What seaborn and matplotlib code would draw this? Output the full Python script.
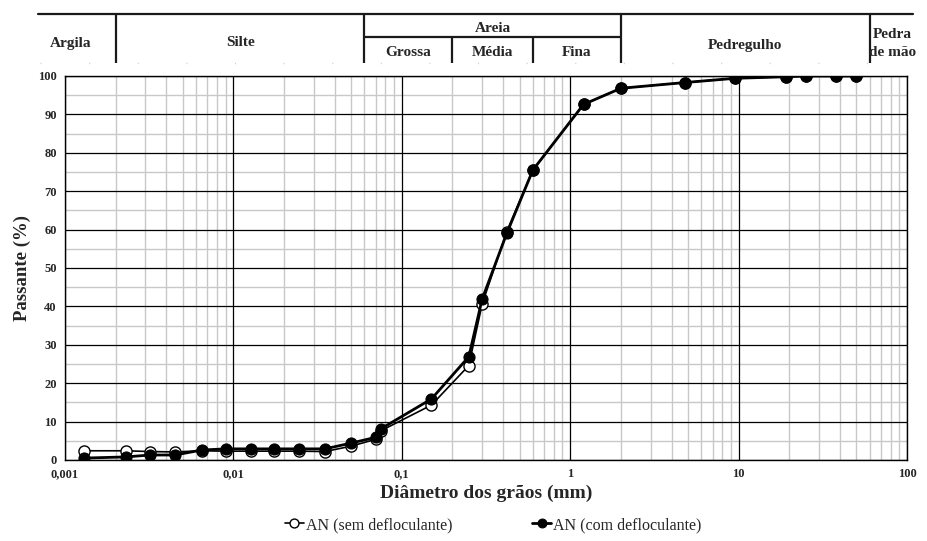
import numpy as np
import pandas as pd
import matplotlib
matplotlib.use("Agg")
import matplotlib.pyplot as plt
import seaborn as sns

# Grain diameters (mm): sedimentation readings followed by sieve openings
diam_sed = [0.0013, 0.0023, 0.0032, 0.0045, 0.0065, 0.009, 0.0127, 0.0174, 0.0245, 0.035, 0.05, 0.07]
diam_sieve = [0.075, 0.15, 0.25, 0.3, 0.42, 0.6, 1.2, 2.0, 4.8, 9.5, 19, 25, 38, 50]

# Percent passing
sem_sed = [2.4, 2.4, 2.2, 2.1, 2.4, 2.3, 2.3, 2.3, 2.3, 2.2, 3.6, 5.4]
sem_sieve = [7.6, 14.3, 24.6, 40.6, 59.5, 75.5, 92.6, 96.8, 98.3, 99.4, 99.8, 100, 100, 100]
com_sed = [0.5, 0.8, 1.3, 1.3, 2.6, 2.9, 2.9, 2.9, 2.9, 2.9, 4.4, 5.9]
com_sieve = [8.1, 15.9, 26.9, 41.9, 59.0, 75.5, 92.6, 96.8, 98.3, 99.4, 99.8, 100, 100, 100]

series_names = ["AN (sem defloculante)", "AN (com defloculante)"]

# Soil classification bands (NBR 6502)
class_bounds = [0.002, 0.06, 0.2, 0.6, 2.0, 60]
x_ticks = [0.001, 0.01, 0.1, 1, 10, 100]
x_tick_labels = ["0,001", "0,01", "0,1", "1", "10", "100"]
y_ticks = list(range(0, 101, 10))

sns.set_theme(style="white")
plt.rcParams["font.family"] = ["Liberation Serif", "DejaVu Serif"]

W_PX, H_PX = 928, 541
fig = plt.figure(figsize=(W_PX / 100, H_PX / 100), dpi=100)

left, right, top, bottom = 65, 907, 76, 460
ax = fig.add_axes([left / W_PX, 1 - bottom / H_PX, (right - left) / W_PX, (bottom - top) / H_PX])

df = pd.DataFrame({
    "d": diam_sed + diam_sieve + diam_sed + diam_sieve,
    "p": sem_sed + sem_sieve + com_sed + com_sieve,
    "serie": [series_names[0]] * (len(diam_sed) + len(diam_sieve))
             + [series_names[1]] * (len(diam_sed) + len(diam_sieve)),
})

ax.set_xscale("log")
ax.set_xlim(0.001, 100)
ax.set_ylim(0, 100)

# grid: grey minor lines, black major lines
for dec in [0.001, 0.01, 0.1, 1, 10]:
    for m in range(2, 10):
        ax.axvline(dec * m, color="#c8c8c8", lw=1.0, zorder=0.5)
for yv in range(5, 100, 10):
    ax.axhline(yv, color="#c8c8c8", lw=1.0, zorder=0.5)
for xv in x_ticks:
    ax.axvline(xv, color="black", lw=0.9, zorder=0.6)
for yv in y_ticks:
    ax.axhline(yv, color="black", lw=0.9, zorder=0.6)

sem = df[df["serie"] == series_names[0]]
com = df[df["serie"] == series_names[1]]
sns.lineplot(data=sem, x="d", y="p", ax=ax, sort=False, estimator=None,
             color="black", lw=1.2, marker="o", markersize=8,
             markerfacecolor="white", markeredgecolor="black", markeredgewidth=1.0,
             label=series_names[0], zorder=3, legend=False)
sns.lineplot(data=com, x="d", y="p", ax=ax, sort=False, estimator=None,
             color="black", lw=2.0, marker="o", markersize=8,
             markerfacecolor="black", markeredgecolor="black",
             label=series_names[1], zorder=4, legend=False)

ax.set_xticks(x_ticks)
ax.set_xticklabels(x_tick_labels)
ax.xaxis.set_minor_locator(matplotlib.ticker.NullLocator())
ax.set_yticks(y_ticks)
ax.tick_params(axis="both", length=0, labelsize=9, pad=6)
for lab in ax.get_xticklabels() + ax.get_yticklabels():
    lab.set_fontweight("bold")
ax.set_xlabel("Diâmetro dos grãos (mm)", fontsize=14, fontweight="bold", labelpad=3)
ax.set_ylabel("Passante (%)", fontsize=13.5, fontweight="bold", labelpad=5)
for s in ax.spines.values():
    s.set_color("black")
    s.set_linewidth(1.0)

# classification header drawn above the plot with the same log x-scale
hax = fig.add_axes([left / W_PX, 1 - 66 / H_PX, (right - left) / W_PX, (66 - 6) / H_PX])
hax.set_xscale("log")
hax.set_xlim(0.001, 100)
hax.set_ylim(66, 6)
hax.axis("off")
hax.axhline(13.5, xmin=(38 - left) / (right - left), xmax=(913 - left) / (right - left),
            color="#1a1a1a", lw=1.6, clip_on=False)
hax.axhline(63, xmin=(40 - left) / (right - left), xmax=(913 - left) / (right - left),
            color="#d0d0d0", lw=1.0, ls=(0, (0.8, 34.2)), clip_on=False)
hax.vlines([class_bounds[0], class_bounds[1], class_bounds[5]], 13.5, 63,
           color="#1a1a1a", lw=1.6, clip_on=False)
hax.vlines([class_bounds[4]], 15, 63, color="#1a1a1a", lw=1.6, clip_on=False)
hax.vlines([class_bounds[2], class_bounds[3]], 37, 63, color="#1a1a1a", lw=1.6, clip_on=False)
hax.hlines(37, class_bounds[1], class_bounds[4], color="#1a1a1a", lw=1.6, clip_on=False)

hdr = dict(fontsize=11, fontweight="bold", ha="center", va="center", clip_on=False)
gm = lambda a, b: np.sqrt(a * b)
hax.text(0.00108, 43, "Argila", **hdr)
hax.text(gm(class_bounds[0], class_bounds[1]), 43, "Silte", **hdr)
hax.text(gm(class_bounds[1], class_bounds[4]), 28, "Areia", **hdr)
hax.text(gm(class_bounds[1], class_bounds[2]), 53, "Grossa", **hdr)
hax.text(gm(class_bounds[2], class_bounds[3]), 53, "Média", **hdr)
hax.text(gm(class_bounds[3], class_bounds[4]), 53, "Fina", **hdr)
hax.text(gm(class_bounds[4], class_bounds[5]), 46, "Pedregulho", **hdr)
hax.text(82, 34, "Pedra", **hdr)
hax.text(82, 52, "de mão", **hdr)

handles, labels = ax.get_legend_handles_labels()
fig.legend(handles, labels, loc="center", bbox_to_anchor=(493 / W_PX, 1 - 525 / H_PX), ncol=2,
           frameon=False, fontsize=11.5, handlelength=1.2, handletextpad=0.1,
           columnspacing=5.0, markerscale=0.8)

fig.savefig("out.png", dpi=100)
